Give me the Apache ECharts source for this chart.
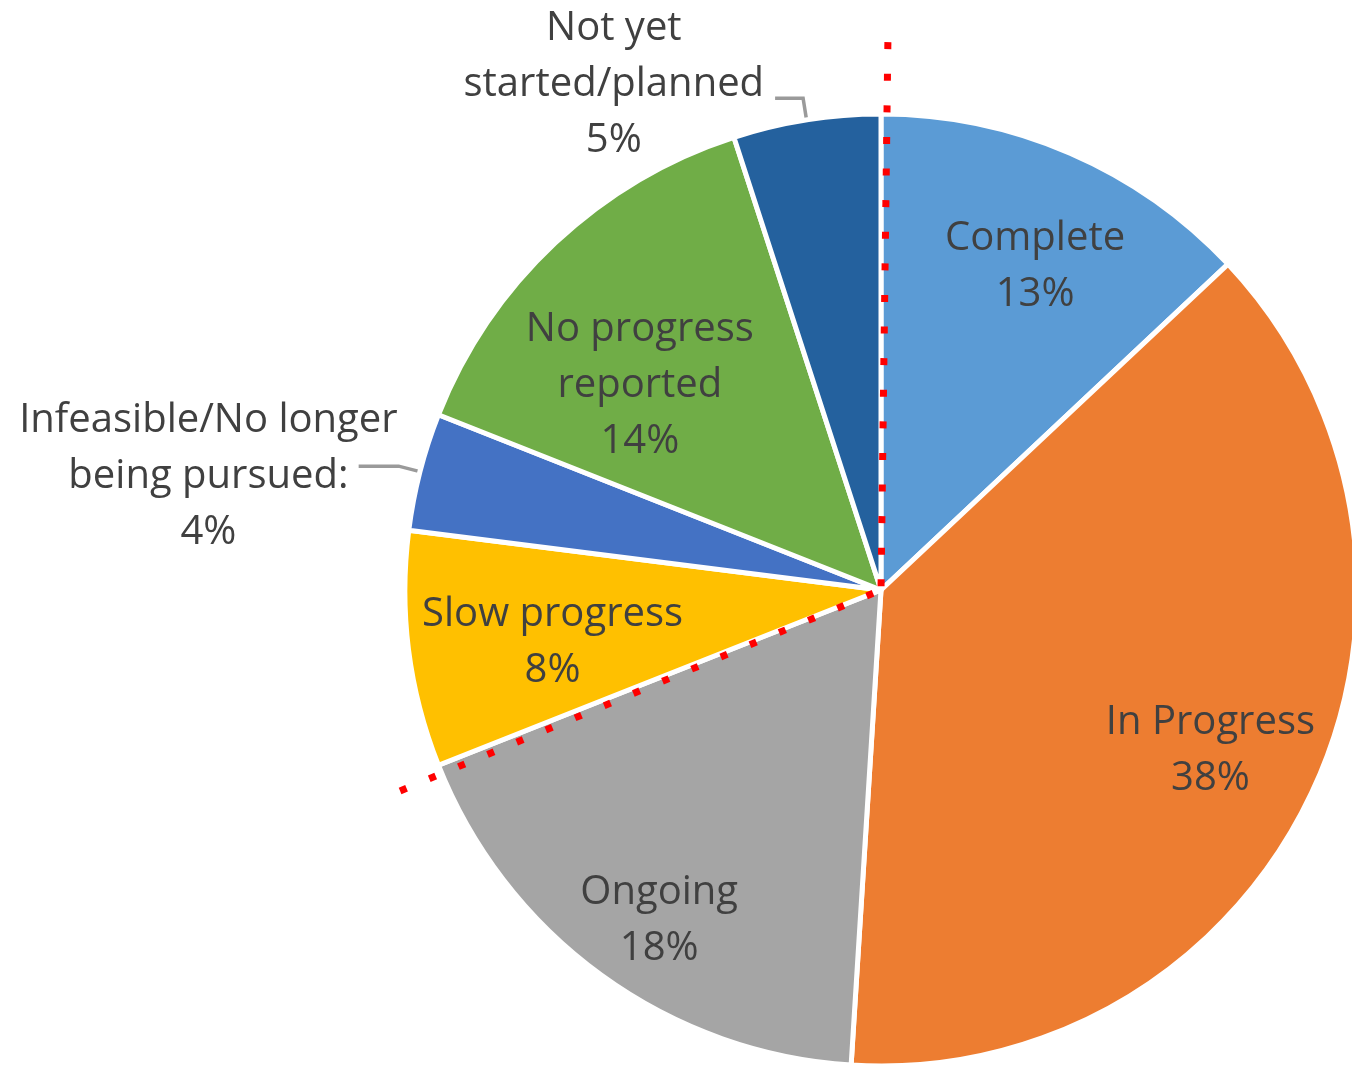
<!DOCTYPE html>
<html>
<head>
<meta charset="utf-8">
<script src="https://cdn.jsdelivr.net/npm/echarts@6/dist/echarts.min.js"></script>
<style>
html,body{margin:0;padding:0;background:#fff;}
#chart{width:1352px;height:1069px;}
</style>
</head>
<body>
<div id="chart"></div>
<script>
// ---- data ----
const categories = ['Complete', 'In Progress', 'Ongoing', 'Slow progress',
  'Infeasible/No longer being pursued:', 'No progress reported', 'Not yet started/planned'];
const values = [13, 38, 18, 8, 4, 14, 5];
const labelTexts = ['Complete', 'In Progress', 'Ongoing', 'Slow progress',
  'Infeasible/No longer\nbeing pursued:', 'No progress\nreported', 'Not yet\nstarted/planned'];
const outsideLabel = [false, false, false, false, true, false, true];
// red dotted annotation lines: angle (percent of the circle, clockwise from top) and length (x radius)
const markerAngles = [0.2, 68.7];
const markerLengths = [1.151, 1.095];

// ---- layout / style ----
const CX = 881, CY = 590, R = 476;
const FONT = '"Open Sans", "Liberation Sans", sans-serif';
const TEXT = '#404040';
const colors = ['#5B9BD5', '#ED7D31', '#A5A5A5', '#FFC000', '#4472C4', '#70AD47', '#24619E'];
// label fine placement (style only)
const insideLabelNudge = {
  'Complete': [13, 3],
  'In Progress': [8, 9],
  'Ongoing': [-13, 43],
  'Slow progress': [24, 8],
  'No progress reported': [2, 55]
};
const outsideLabelStyle = {
  'Infeasible/No longer being pursued:': { padding: [20, 0, 0, 0], distanceToLabelLine: -39, length: 22, length2: 40 },
  'Not yet started/planned': { padding: [0, 0, 28, 0], distanceToLabelLine: 11, length: 22, length2: 28 }
};

const mainData = categories.map((name, i) => {
  const item = { name: name, value: values[i], itemStyle: { color: colors[i] } };
  if (outsideLabel[i]) {
    const st = outsideLabelStyle[name];
    item.label = { show: true, padding: st.padding, distanceToLabelLine: st.distanceToLabelLine };
    item.labelLine = { show: true, length: st.length, length2: st.length2 };
  } else {
    item.label = { show: false };
    item.labelLine = { show: false };
  }
  return item;
});

const labelData = categories.map((name, i) => ({
  name: name, value: values[i],
  label: { show: !outsideLabel[i] }
}));

function centeredRich(i) {
  const lines = (labelTexts[i] + '\n' + values[i] + '%').split('\n');
  return lines.map(l => '{c|' + l + '}').join('\n');
}

const markerData = markerAngles.map((a, k) => [markerLengths[k], a]);
const DOT = 7, DOT_STEP = 31.6;

const option = {
  backgroundColor: '#ffffff',
  animation: false,
  polar: { center: [CX, CY], radius: R * 1.2 },
  angleAxis: { type: 'value', min: 0, max: 100, startAngle: 90, clockwise: true, show: false,
    axisLine: { show: false }, splitLine: { show: false }, axisLabel: { show: false }, axisTick: { show: false } },
  radiusAxis: { type: 'value', min: 0, max: 1.2, show: false,
    axisLine: { show: false }, splitLine: { show: false }, axisLabel: { show: false }, axisTick: { show: false } },
  series: [
    {
      type: 'pie',
      center: [CX, CY],
      radius: [0, R],
      startAngle: 90,
      clockwise: true,
      avoidLabelOverlap: false,
      silent: true,
      z: 2,
      itemStyle: { borderColor: '#ffffff', borderWidth: 5 },
      label: {
        position: 'outside',
        formatter: p => centeredRich(p.dataIndex),
        rich: {
          c: { align: 'center', fontFamily: FONT, fontSize: 40, lineHeight: 56, color: TEXT }
        }
      },
      labelLine: { lineStyle: { color: '#9a9a9a', width: 3.5 }, smooth: false },
      data: mainData
    },
    {
      type: 'pie',
      center: [CX, CY],
      radius: [R * 0.48, R],
      startAngle: 90,
      clockwise: true,
      avoidLabelOverlap: false,
      silent: true,
      z: 3,
      itemStyle: { color: 'rgba(0,0,0,0)', borderWidth: 0 },
      label: {
        position: 'inside',
        formatter: p => labelTexts[p.dataIndex] + '\n' + values[p.dataIndex] + '%',
        fontFamily: FONT, fontSize: 40, lineHeight: 56, color: TEXT, align: 'center'
      },
      labelLayout: function (params) {
        const n = insideLabelNudge[categories[params.dataIndex]];
        return n ? { dx: n[0], dy: n[1] } : {};
      },
      labelLine: { show: false },
      data: labelData
    },
    {
      type: 'custom',
      coordinateSystem: 'polar',
      silent: true,
      z: 10,
      clip: false,
      data: markerData,
      renderItem: function (params, api) {
        const p0 = api.coord([api.value(0), api.value(1)]);
        const p1 = api.coord([0, api.value(1)]);
        const dx = p1[0] - p0[0], dy = p1[1] - p0[1];
        const len = Math.sqrt(dx * dx + dy * dy);
        const ux = dx / len, uy = dy / len;
        const rot = -Math.atan2(dy, dx);
        const children = [];
        for (let t = DOT / 2; t < len; t += DOT_STEP) {
          children.push({
            type: 'rect',
            x: p0[0] + ux * t, y: p0[1] + uy * t,
            rotation: rot,
            shape: { x: -DOT / 2, y: -DOT / 2, width: DOT, height: DOT },
            style: { fill: '#FF0000' }
          });
        }
        return { type: 'group', children: children };
      }
    }
  ]
};

const chart = echarts.init(document.getElementById('chart'), null, { renderer: 'canvas' });
chart.setOption(option);
</script>
</body>
</html>
